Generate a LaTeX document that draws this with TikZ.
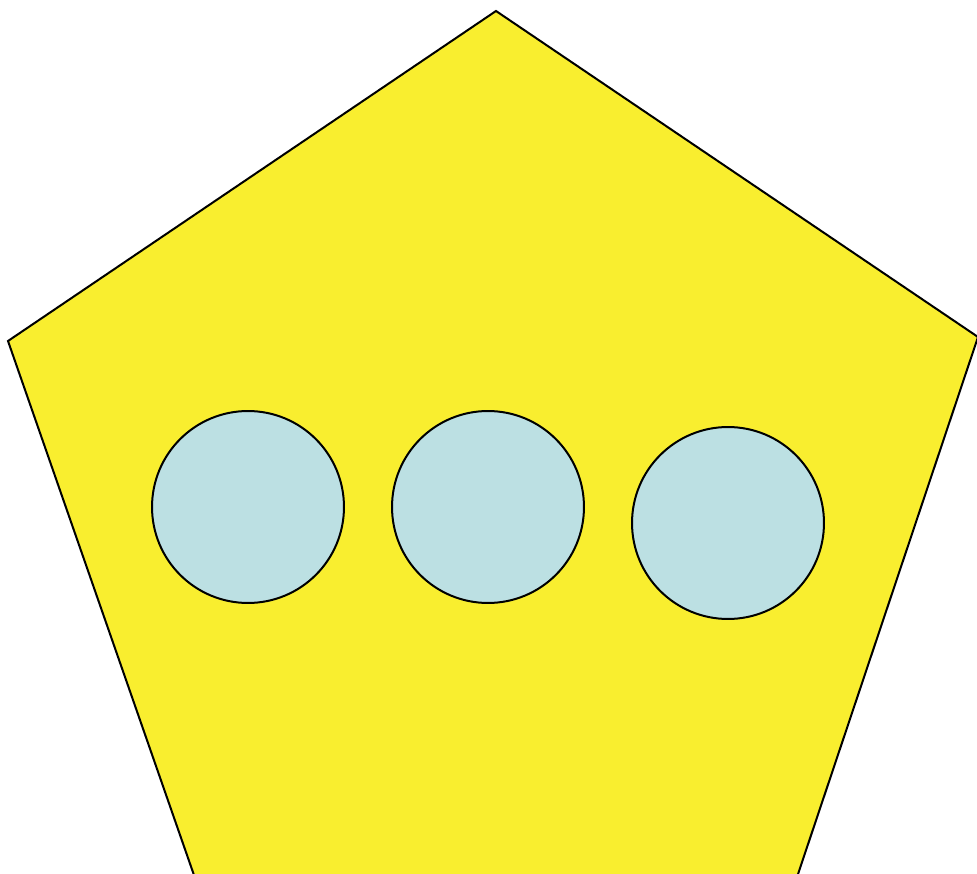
\documentclass[tikz,border=0pt]{standalone}
\usepackage{tikz}
\definecolor{penyellow}{HTML}{F9EE2F}
\definecolor{dotblue}{HTML}{BCE0E3}

\begin{document}
\begin{tikzpicture}[x=0.02cm, y=-0.02cm, line width=0.6mm*0.04/0.06, dot/.style={draw, circle, fill=dotblue, minimum size=3.84cm, inner sep=0pt, line width=0.04cm}]
	\useasboundingbox (0,0) rectangle (977,874);
	\clip (0,0) rectangle (977,874);
	\coordinate (T) at (496,11);
	\coordinate (L) at (8,341);
	\coordinate (R) at (978,337);
	\coordinate (BL) at (203,901);
	\coordinate (BR) at (789,901);
	\filldraw[fill=penyellow, draw=black, line width=0.04cm, line join=miter] (T) -- (R) -- (BR) -- (BL) -- (L) -- cycle;
	\node[dot] (c1) at (248,507) {};
	\node[dot] (c2) at (488,507) {};
	\node[dot] (c3) at (728,523) {};
\end{tikzpicture}
\end{document}
